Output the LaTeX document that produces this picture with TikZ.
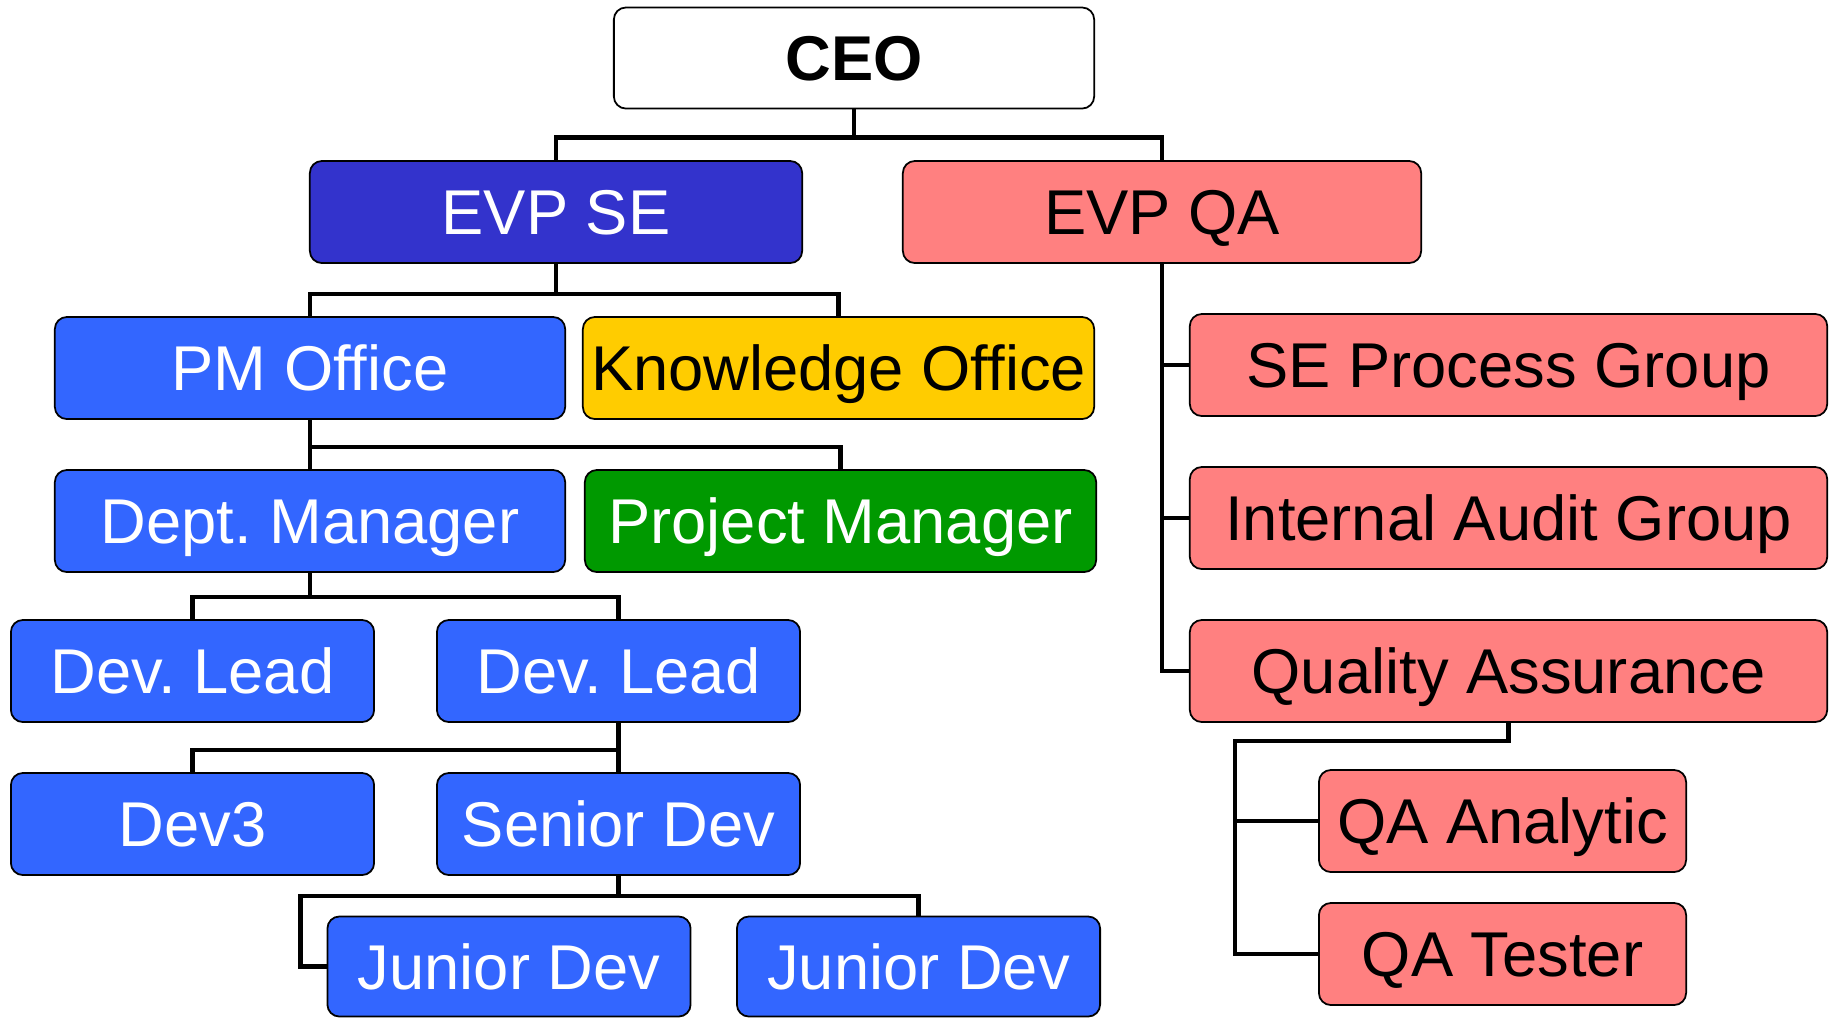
\documentclass[tikz,border=0pt]{standalone}
\usepackage{fontspec}
\setmainfont{Liberation Sans}
\usepackage{xcolor}
\definecolor{colorBoard}{RGB}{51,51,204}
\definecolor{colorDev}{RGB}{51,102,255}
\definecolor{colorKnow}{RGB}{255,204,0}
\definecolor{colorProject}{RGB}{0,153,0}
\definecolor{colorQuality}{RGB}{255,128,128}
\usepackage{tikz}
\usetikzlibrary{positioning}
\tikzset{unit/.style={draw=black, line width=0.5pt, rounded corners=0.12cm, inner sep=0pt, minimum height=1.02cm, text height=0.45cm, text depth=0pt, font=\fontsize{18}{20}\selectfont}}
\tikzset{devunit/.style={unit, fill=colorDev, text=white, minimum width=3.63cm}}
\tikzset{qaunit/.style={unit, fill=colorQuality, text=black}}

\begin{document}
\begin{tikzpicture}[x=0.01cm, y=-0.01cm, link/.style={line width=1.3pt, black}]
\useasboundingbox (0,0) rectangle (1834,1017);
\node[unit, fill=white, minimum width=4.8cm, minimum height=1.01cm, font=\fontsize{18}{20}\selectfont\bfseries] (ceo) at (854,58) {CEO};
\node[unit, fill=colorBoard, text=white, minimum width=4.92cm] (evpse) at (556,212) {EVP SE};
\node[qaunit, minimum width=5.18cm] (evpqa) at (1162,212) {EVP QA};
\node[unit, fill=colorDev, text=white, minimum width=5.1cm] (pmo) at (310,368) {PM Office};
\node[unit, fill=colorKnow, minimum width=5.11cm] (ko) at (838.5,368) {Knowledge Office};
\node[unit, fill=colorDev, text=white, minimum width=5.1cm] (dm) at (310,521) {Dept.\ Manager};
\node[unit, fill=colorProject, text=white, minimum width=5.11cm] (pm) at (840.5,521) {Project Manager};
\node[devunit] (lead1) at (192.5,671) {Dev.\ Lead};
\node[devunit] (lead2) at (618.5,671) {Dev.\ Lead};
\node[devunit] (dev3) at (192.5,824) {Dev3};
\node[devunit] (senior) at (618.5,824) {Senior Dev};
\node[devunit, minimum height=1.0cm] (junior1) at (509,966.5) {Junior Dev};
\node[devunit, minimum height=1.0cm] (junior2) at (918.5,966.5) {Junior Dev};
\node[qaunit, minimum width=6.37cm] (sepg) at (1508.5,365) {SE Process Group};
\node[qaunit, minimum width=6.37cm] (iag) at (1508.5,518) {Internal Audit Group};
\node[qaunit, minimum width=6.37cm] (qa) at (1508.5,671) {Quality Assurance};
\node[qaunit, minimum width=3.67cm] (qaan) at (1502.5,821) {QA Analytic};
\node[qaunit, minimum width=3.67cm] (qatest) at (1502.5,954) {QA Tester};
\draw[link] (ceo.south) -- ++(0,28) -| (evpse.north);
\draw[link] (ceo.south) ++(0,28) -| (evpqa.north);
\draw[link] (evpse.south) -- ++(0,30) -| (pmo.north);
\draw[link] (evpse.south) ++(0,30) -| (ko.north);
\draw[link] (pmo.south) -- ++(0,27) -| (pm.north);
\draw[link] (pmo.south) -- (dm.north);
\draw[link] (dm.south) -- ++(0,24) -| (lead1.north);
\draw[link] (dm.south) ++(0,24) -| (lead2.north);
\draw[link] (lead2.south) -- ++(0,27) -| (dev3.north);
\draw[link] (lead2.south) -- (senior.north);
\draw[link] (senior.south) -- ++(0,20) -| (junior2.north);
\draw[link] (senior.south) ++(0,20) -| ([xshift=-0.26cm]junior1.west) -- (junior1.west);
\draw[link] (evpqa.south) |- (qa.west);
\draw[link] (evpqa.south) |- (sepg.west);
\draw[link] (evpqa.south) |- (iag.west);
\draw[link] (qa.south) -- ++(0,18) -| ([xshift=-0.83cm]qaan.west) -- (qaan.west);
\draw[link] ([xshift=-0.83cm]qaan.west) |- (qatest.west);
\end{tikzpicture}
\end{document}
